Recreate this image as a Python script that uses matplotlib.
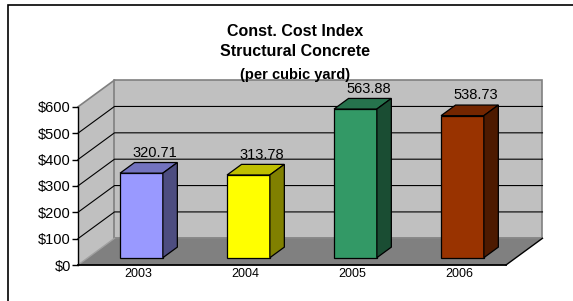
import numpy as np
import matplotlib.pyplot as plt
import matplotlib.colors as mcolors
from matplotlib.patches import Polygon, Rectangle

years = ['2003', '2004', '2005', '2006']
costs = [320.71, 313.78, 563.88, 538.73]
bar_colors = ['#9999FF', '#FFFF00', '#339966', '#993300']
y_ticks = [0, 100, 200, 300, 400, 500, 600]
title_lines = ['Const. Cost Index', 'Structural Concrete']
subtitle = '(per cubic yard)'

plt.rcParams['font.family'] = ['Liberation Sans', 'DejaVu Sans']

fig = plt.figure(figsize=(5.73, 3.01), dpi=100)
ax = fig.add_axes([78 / 573, 36 / 301, 428 / 573, 158.2 / 301])
n = len(years)
ymax = y_ticks[-1]
ax.set_xlim(0, n)
ax.set_ylim(0, ymax)
ax.patch.set_visible(False)

# depth of the 3d box, in data units
DX = 0.341
DY = 101.3
# bars sit between these depth fractions
f0, f1 = 0.273, 0.67
bw = 0.4


def shade(c, k):
    r, g, b = mcolors.to_rgb(c)
    return (r * k, g * k, b * k)


def poly(pts, **kw):
    p = Polygon(pts, closed=True, clip_on=False, **kw)
    ax.add_patch(p)
    return p


# walls and floor
poly([(0, 0), (0, ymax), (DX, ymax + DY), (DX, DY)], fc='#c0c0c0', ec='none', zorder=0)
poly([(DX, DY), (n + DX, DY), (n + DX, ymax + DY), (DX, ymax + DY)],
     fc='#c0c0c0', ec='#808080', lw=1.2, zorder=0)
poly([(0, 0), (DX, DY), (n + DX, DY), (n, 0)], fc='#808080', ec='none', zorder=1)

# gridlines on side and back walls
for v in y_ticks[1:-1]:
    ax.plot([0, DX, n + DX], [v, v + DY, v + DY], color='black', lw=0.8,
            clip_on=False, zorder=0.5)
ax.plot([0, DX], [ymax, ymax + DY], color='#808080', lw=1.2, clip_on=False, zorder=0.5)
ax.plot([0, DX], [0, DY], color='#a0a0a0', lw=1, clip_on=False, zorder=1.5)
ax.plot([n, n + DX], [0, DY], color='black', lw=1, clip_on=False, zorder=1.5)

# bars
ddx = (f1 - f0) * DX
ddy = (f1 - f0) * DY
for i, (v, c) in enumerate(zip(costs, bar_colors)):
    x0 = i + 0.5 - bw / 2 + f0 * DX
    y0 = f0 * DY
    x1 = x0 + bw
    ax.add_patch(Rectangle((x0, y0), bw, v, fc=c, ec='black', lw=0.9,
                           clip_on=False, zorder=3))
    poly([(x0, y0 + v), (x1, y0 + v), (x1 + ddx, y0 + v + ddy), (x0 + ddx, y0 + v + ddy)],
         fc=shade(c, 0.75), ec='black', lw=0.9, zorder=3)
    poly([(x1, y0), (x1 + ddx, y0 + ddy), (x1 + ddx, y0 + v + ddy), (x1, y0 + v)],
         fc=shade(c, 0.5), ec='black', lw=0.9, zorder=3)
    ax.annotate(f'{v:.2f}', (x0 + bw / 2 + ddx, y0 + v + ddy), xytext=(-0.5, 2),
                textcoords='offset points', ha='center', va='bottom',
                fontsize=10.5, color='black', zorder=4, annotation_clip=False)

# axes
for s in ['top', 'right']:
    ax.spines[s].set_visible(False)
ax.spines['left'].set_linewidth(1.0)
ax.spines['bottom'].set_linewidth(1.3)
ax.spines['left'].set_zorder(2)
ax.spines['bottom'].set_zorder(2)
ax.set_yticks(y_ticks)
ax.set_yticklabels([f'${v}' for v in y_ticks])
ax.tick_params(axis='y', direction='out', length=4, width=1, pad=1, labelsize=10.5)
ax.set_xticks(np.arange(n) + 0.5 + 0.06)
ax.set_xticklabels(years)
ax.tick_params(axis='x', length=0, pad=2.5, labelsize=9)

# title
fig.text(295 / 573, 1 - 32 / 301, title_lines[0], ha='center', va='center',
         fontsize=11.5, fontweight='bold')
fig.text(295 / 573, 1 - 52 / 301, title_lines[1], ha='center', va='center',
         fontsize=11.5, fontweight='bold')
fig.text(295 / 573, 1 - 75 / 301, subtitle, ha='center', va='center',
         fontsize=10.5, fontweight='bold')

# chart frame
fig.add_artist(Rectangle((8 / 573, -0.2), 1.5, 1 - 5 / 301 + 0.2, transform=fig.transFigure,
                         fill=False, ec='black', lw=1.2))

fig.savefig('out.png', dpi=100, facecolor='white')
